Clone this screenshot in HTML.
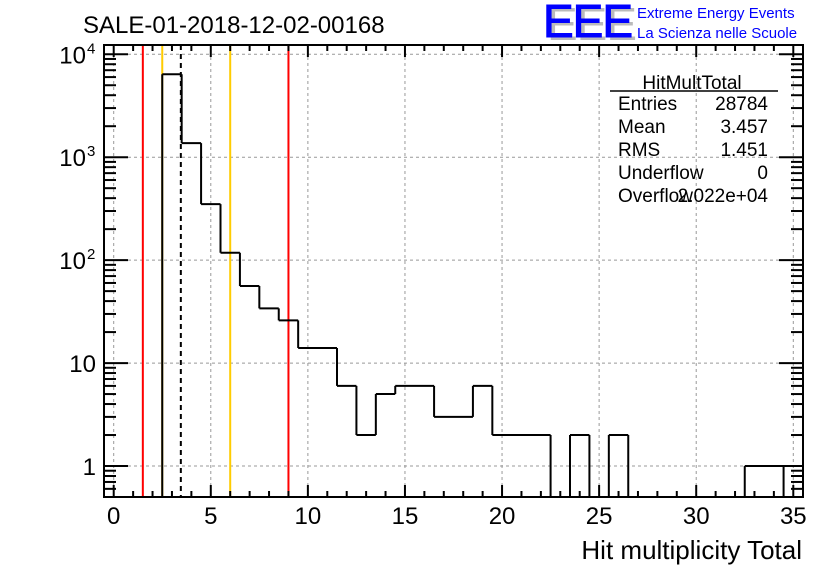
<!DOCTYPE html>
<html><head><meta charset="utf-8"><style>
body{margin:0;background:#fff;}
svg{display:block;font-family:"Liberation Sans",sans-serif;}
</style></head><body>
<svg id="c" width="836" height="572" viewBox="0 0 836 572">
<rect width="836" height="572" fill="#fff"/>
<text x="83" y="33" font-size="24">SALE-01-2018-12-02-00168</text>
<g>
<text x="547" y="40" font-size="46" fill="#bbb" letter-spacing="-1">EEE</text>
<text x="543" y="37" font-size="46" fill="#00f" stroke="#00f" stroke-width="1" letter-spacing="-1">EEE</text>
<text x="637" y="18" font-size="15" fill="#00f">Extreme Energy Events</text>
<text x="637" y="38" font-size="15" fill="#00f">La Scienza nelle Scuole</text>
</g>
<g id="grid"></g><g id="marks"></g><g id="axes"></g>
<g font-size="19">
<text x="692" y="89" text-anchor="middle">HitMultTotal</text>
<line x1="610" y1="91" x2="778" y2="91" stroke="#000" stroke-width="1.5"/>
<text x="618" y="110">Entries</text><text x="768" y="110" text-anchor="end">28784</text>
<text x="618" y="133">Mean</text><text x="768" y="133" text-anchor="end">3.457</text>
<text x="618" y="156">RMS</text><text x="768" y="156" text-anchor="end">1.451</text>
<text x="618" y="179">Underflow</text><text x="768" y="179" text-anchor="end">0</text>
<text x="618" y="202">Overflow</text><text x="768" y="202" text-anchor="end">2.022e+04</text>
</g>
<text x="802" y="559" font-size="26" text-anchor="end">Hit multiplicity Total</text>
</svg>
<script>
const binCenters=[1,2,3,4,5,6,7,8,9,10,11,12,13,14,15,16,17,18,19,20,21,22,23,24,25,26,27,28,29,30,31,32,33,34,35];
const counts=[0,0,6400,1370,350,118,56,34,26,14,14,6,2,5,6,6,3,3,6,2,2,2,0,2,0,2,0,0,0,0,0,0,1,1,1];
const separatorEdges=[34.5];
const xTicks=[0,5,10,15,20,25,30,35];
const yTicks=[1,10,100,1000,10000];
const yTickBase=["1","10","10","10","10"];
const yTickExp=["","","2","3","4"];
const vLines=[{x:1.5,c:"#f00",d:""},{x:9,c:"#f00",d:""},{x:2.5,c:"#fc0",d:""},{x:6,c:"#fc0",d:""},{x:3.457,c:"#000",d:"5,4"}];
const L=104,R=803,T=45,B=497,xmin=-0.5,xmax=35.5,ymin=Math.log10(0.5),ymax=Math.log10(12300);
const X=v=>L+(v-xmin)/(xmax-xmin)*(R-L);
const Y=v=>B-(Math.log10(Math.max(v,0.5))-ymin)/(ymax-ymin)*(B-T);
const NS="http://www.w3.org/2000/svg";
function mk(p,t,a){const e=document.createElementNS(NS,t);for(const k in a)e.setAttribute(k,a[k]);p.appendChild(e);return e;}
const grid=document.getElementById('grid'),marks=document.getElementById('marks'),axes=document.getElementById('axes');
xTicks.forEach(t=>{const g=mk(grid,'line',{x1:X(t),x2:X(t),y1:T,y2:B,stroke:'#999','stroke-dasharray':'3,3','stroke-width':1});

});
yTicks.forEach(t=>{const g=mk(grid,'line',{x1:L,x2:R,y1:Y(t),y2:Y(t),stroke:'#999','stroke-dasharray':'3,3','stroke-width':1});

});
vLines.forEach(v=>{const l=mk(marks,'line',{x1:X(v.x),x2:X(v.x),y1:T,y2:B,stroke:v.c,'stroke-width':2,'stroke-dasharray':v.d});

});
let d="",prev=0;
binCenters.forEach((c,i)=>{const v=counts[i],x0=X(c-0.5),x1=X(c+0.5);
 if(v!==prev&&(v>0||prev>0)){d+=`M${x0},${Y(prev>0?prev:0.4)}L${x0},${Y(v>0?v:0.4)}`;}
 else if(separatorEdges.includes(c-0.5)&&v>0){d+=`M${x0},${Y(v)}L${x0},${B}`;}
 if(v>0)d+=`M${x0},${Y(v)}L${x1},${Y(v)}`;
 prev=v;});
if(prev>0)d+=`M${X(35.5)},${Y(prev)}L${X(35.5)},${B}`;
const h=mk(marks,'path',{d:d,fill:'none',stroke:'#000','stroke-width':2});


const f=mk(axes,'rect',{x:L,y:T,width:R-L,height:B-T,fill:'none',stroke:'#000','stroke-width':2});


for(let i=0;i<=35;i++){const len=i%5==0?12:6;
 mk(axes,'line',{x1:X(i),x2:X(i),y1:B,y2:B-len,stroke:'#000','stroke-width':2});
 mk(axes,'line',{x1:X(i),x2:X(i),y1:T,y2:T+len,stroke:'#000','stroke-width':2});}
xTicks.forEach(t=>{const tx=mk(axes,'text',{x:X(t),y:524,'font-size':24,'text-anchor':'middle'});tx.textContent=t;

});
for(let e=-1;e<=4;e++)for(let m=1;m<10;m++){const v=m*Math.pow(10,e);if(v<0.5||v>12300)continue;const len=m==1?24:12;
 mk(axes,'line',{x1:L,x2:L+len,y1:Y(v),y2:Y(v),stroke:'#000','stroke-width':2});
 mk(axes,'line',{x1:R,x2:R-len,y1:Y(v),y2:Y(v),stroke:'#000','stroke-width':2});}
yTicks.forEach((t,i)=>{
 const hasExp=yTickExp[i]!=="";
 const tx=mk(axes,'text',{x:hasExp?86:96,y:Y(t)+9,'font-size':24,'text-anchor':'end'});tx.textContent=yTickBase[i];
 
 
 if(hasExp){const ex=mk(axes,'text',{x:87,y:Y(t)-1,'font-size':15});ex.textContent=yTickExp[i];
 
 }
});
</script>
</body></html>
